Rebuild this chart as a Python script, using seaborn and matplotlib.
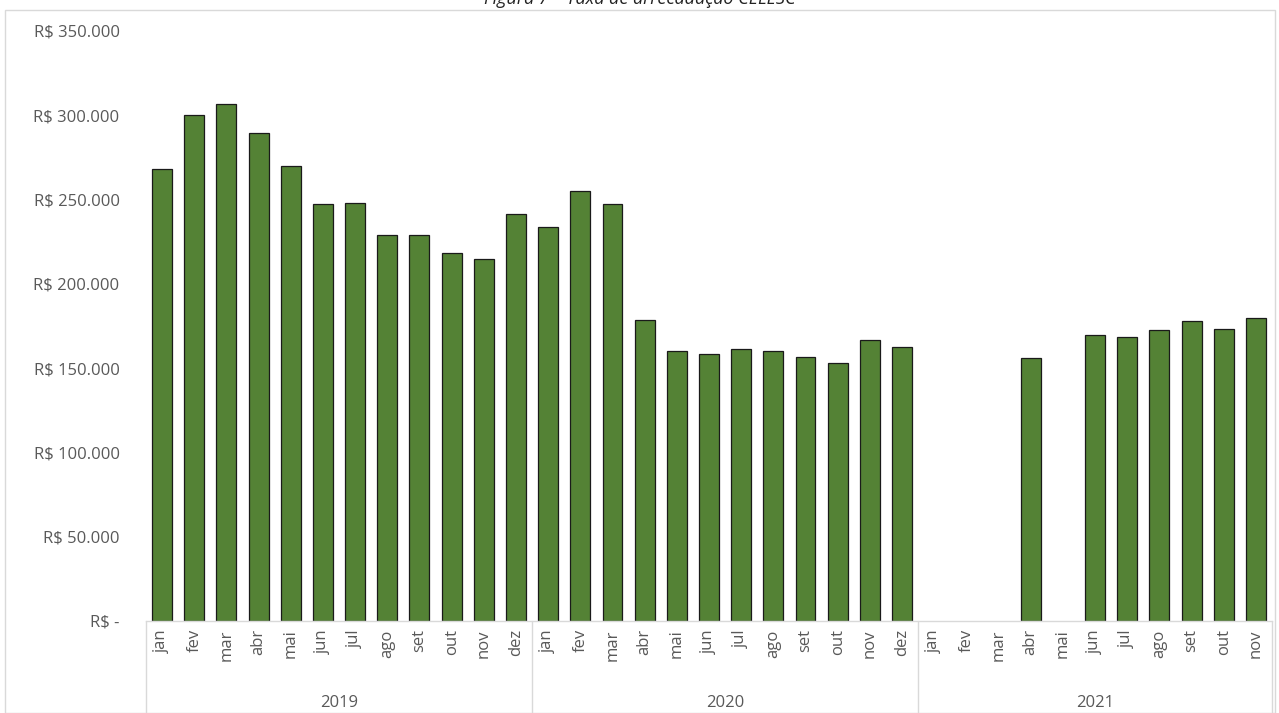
import numpy as np
import pandas as pd
import matplotlib
matplotlib.use("Agg")
import matplotlib.pyplot as plt
import matplotlib.transforms as mtransforms
from matplotlib.patches import Rectangle
import seaborn as sns

# --- dados (em R$) ---
years = ["2019", "2020", "2021"]
months = ["jan", "fev", "mar", "abr", "mai", "jun", "jul", "ago", "set", "out", "nov", "dez"]
vals_2019 = [268000, 300000, 306700, 289300, 270200, 247200, 248000, 229000, 229000, 218300, 214600, 241300]
vals_2020 = [233700, 255100, 247600, 178700, 160300, 158400, 161400, 160300, 156600, 153000, 166500, 162800]
vals_2021 = [np.nan, np.nan, np.nan, 156000, np.nan, 169900, 168700, 172600, 178000, 173400, 179600]
yticks = [0, 50000, 100000, 150000, 200000, 250000, 300000, 350000]
ytick_labels = ["R$ -", "R$ 50.000", "R$ 100.000", "R$ 150.000", "R$ 200.000",
                "R$ 250.000", "R$ 300.000", "R$ 350.000"]

rows = []
for yr, vals in zip(years, [vals_2019, vals_2020, vals_2021]):
    for m, v in zip(months, vals):
        rows.append({"cat": f"{m} {yr}", "mes": m, "ano": yr, "valor": v})
df = pd.DataFrame(rows)
order = list(df["cat"])

sns.set_theme(style="white")
plt.rcParams["font.family"] = ["Open Sans", "DejaVu Sans"]

fig = plt.figure(figsize=(12.79, 7.13), dpi=100)
ax = fig.add_axes([146 / 1279, 1 - 621 / 713, (1272 - 146) / 1279, (621 - 31) / 713])

sns.barplot(data=df, x="cat", y="valor", order=order, color="#548235",
            saturation=1, width=0.62, edgecolor="#1a1a1a", linewidth=0.9, ax=ax)

ax.set_xlim(-0.5, len(order) - 0.5)
ax.set_ylim(0, 350000)
ax.set_yticks(yticks)
ax.set_yticklabels(ytick_labels, fontsize=12, color="#595959")
ax.set_xticks(range(len(order)))
ax.set_xticklabels(df["mes"], rotation=90, fontsize=12, color="#595959")
ax.tick_params(axis="both", length=0)
ax.tick_params(axis="y", pad=19)
ax.tick_params(axis="x", pad=6)
ax.set_xlabel("")
ax.set_ylabel("")
for s in ["left", "right", "top"]:
    ax.spines[s].set_visible(False)
ax.spines["bottom"].set_color("#d9d9d9")
ax.spines["bottom"].set_linewidth(1)

# eixo de categorias em dois níveis (meses / anos)
trans = mtransforms.blended_transform_factory(ax.transData, ax.transAxes)
depth = (713 - 621) / (621 - 31)
start = 0
bounds = [-0.5]
for yr, vals in zip(years, [vals_2019, vals_2020, vals_2021]):
    n = len(vals)
    ax.text(start + (n - 1) / 2, -(703 - 621) / (621 - 31), yr, transform=trans,
            ha="center", va="center", fontsize=12, color="#595959")
    start += n
    bounds.append(start - 0.5)
for b in bounds:
    ax.plot([b, b], [0, -depth], transform=trans, color="#d9d9d9", lw=1, clip_on=False)

# moldura e título (cortado no topo, como na imagem)
fig.patches.append(Rectangle((5 / 1279, 0), 1270 / 1279, 1 - 10 / 713, transform=fig.transFigure,
                             fill=False, edgecolor="#d9d9d9", lw=1))
fig.text(0.5, 1 - 4 / 713, "Figura 7 – Taxa de arrecadação CELESC", ha="center", va="baseline",
         style="italic", fontsize=13, color="#222222")

fig.savefig("out.png", dpi=100)
